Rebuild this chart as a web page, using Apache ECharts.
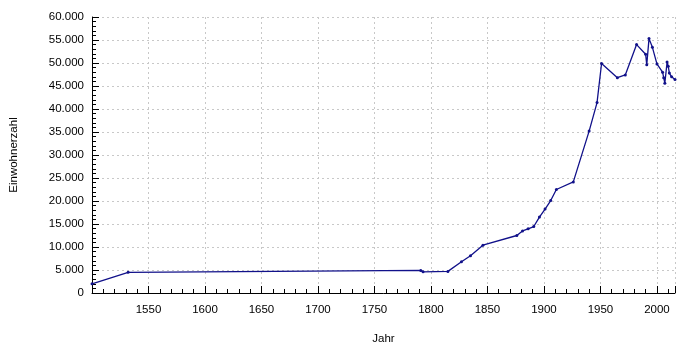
<!DOCTYPE html>
<html>
<head>
<meta charset="utf-8">
<script src="https://cdn.jsdelivr.net/npm/echarts@6/dist/echarts.min.js"></script>
<style>html,body{margin:0;padding:0;background:#fff}#c{width:700px;height:350px}</style>
</head>
<body>
<div id="c"></div>
<script>
const years = [1500,1532,1791,1793,1815,1827,1835,1846,1876,1881,1886,1891,1896,1901,1906,1911,1926,1940,1947,1951,1965,1972,1982,1990,1991,1993,1996,2000,2005,2006,2007,2009,2010,2011,2013,2016];
const population = [2000,4500,4900,4600,4700,6800,8100,10400,12500,13500,13950,14450,16500,18250,20100,22500,24150,35200,41400,49900,46800,47400,54000,51900,49600,55300,53400,49800,48000,46800,45600,50200,49300,47800,47000,46400];
const xName = 'Jahr';
const yName = 'Einwohnerzahl';

function fmt(v){ return String(v).replace(/\B(?=(\d{3})+(?!\d))/g, '.'); }

const chart = echarts.init(document.getElementById('c'), null, {renderer:'canvas'});
const font = 'Liberation Sans, Arial, sans-serif';
chart.setOption({
  animation:false,
  backgroundColor:'#fff',
  grid:{left:90,right:25,top:17,bottom:55,containLabel:false},
  xAxis:{
    type:'value', min:1500, max:2016, interval:50,
    name:xName, nameLocation:'middle', nameGap:40,
    nameTextStyle:{color:'#000',fontSize:11.5,fontFamily:font},
    axisLine:{lineStyle:{color:'#000',width:1}},
    axisTick:{inside:true,length:7,lineStyle:{color:'#000'}},
    minorTick:{show:true,splitNumber:5,length:4,lineStyle:{color:'#000'}},
    axisLabel:{color:'#000',fontSize:11.5,fontFamily:font,margin:11,showMaxLabel:false,
      formatter:v=> (v===1500 ? '' : String(v))},
    splitLine:{show:true,lineStyle:{color:'#c8c8c8',type:[2,3],width:1}}
  },
  yAxis:{
    type:'value', min:0, max:60000, interval:5000,
    name:yName, nameLocation:'middle', nameGap:72, nameRotate:90,
    nameTextStyle:{color:'#000',fontSize:11.5,fontFamily:font},
    axisLine:{show:true,lineStyle:{color:'#000',width:1}},
    axisTick:{show:true,inside:true,length:7,lineStyle:{color:'#000'}},
    minorTick:{show:true,splitNumber:5,length:4,lineStyle:{color:'#000'}},
    axisLabel:{color:'#000',fontSize:11.5,fontFamily:font,margin:8,formatter:v=>fmt(v)},
    splitLine:{show:true,lineStyle:{color:'#c8c8c8',type:[2,3],width:1}}
  },
  series:[{
    type:'line',
    data: years.map((y,i)=>[y,population[i]]),
    lineStyle:{color:'#11118a',width:1.3},
    itemStyle:{color:'#11118a'},
    symbol:'circle', symbolSize:3, showSymbol:true
  }]
});
</script>
</body>
</html>
